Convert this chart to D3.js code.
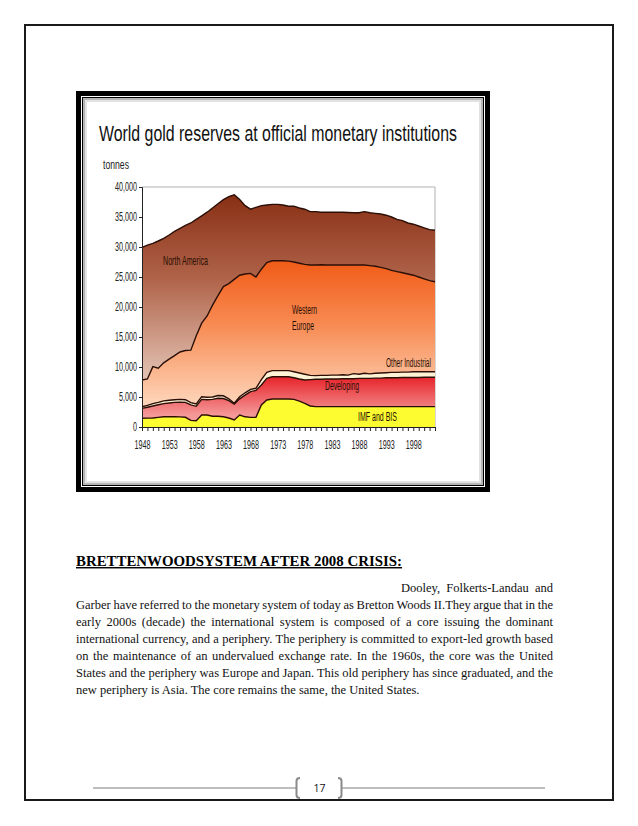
<!DOCTYPE html>
<html>
<head>
<meta charset="utf-8">
<script src="https://cdn.jsdelivr.net/npm/d3@7"></script>
<style>
  html, body { margin: 0; padding: 0; background: #fff; }
  svg { display: block; }
</style>
</head>
<body>
<svg id="svg"></svg>
<script>
const W = 638, H = 826;

// data (tonnes, per group, stacked bottom to top)
const years = [1948,1949,1950,1951,1952,1953,1954,1955,1956,1957,1958,1959,1960,1961,1962,1963,1964,1965,1966,1967,
  1968,1969,1970,1971,1972,1973,1974,1975,1976,1977,1978,1979,1980,1981,1982,1983,1984,1985,1986,1987,
  1988,1989,1990,1991,1992,1993,1994,1995,1996,1997,1998,1999,2000,2001,2002];
const imfBis = [1450,1480,1500,1600,1700,1720,1700,1680,1620,1100,1050,2000,2000,1800,1800,1700,1500,1170,2000,1700,
  1610,1600,3670,4500,4670,4670,4670,4670,4600,4300,3950,3500,3390,3390,3390,3390,3390,3390,3390,3390,
  3390,3390,3390,3390,3390,3390,3390,3390,3390,3390,3390,3390,3390,3390,3390];
const developing = [1650,1820,2000,2100,2200,2280,2400,2470,2480,2600,2400,2600,2550,2800,3000,3050,2900,2660,2700,3600,
  4290,4500,3330,3600,3710,3710,3710,3710,3600,3700,3880,4400,4560,4560,4610,4610,4610,4660,4660,4660,
  4710,4710,4710,4760,4760,4810,4810,4810,4860,4860,4860,4860,4890,4890,4890];
const otherIndustrial = [280,300,400,400,450,450,450,450,450,350,380,450,400,400,450,450,300,120,350,400,
  380,350,900,1000,1020,1020,1020,1020,1000,1000,970,700,610,650,600,650,650,650,600,850,
  700,850,750,800,850,850,900,900,900,900,950,950,920,940,940];
const westernEurope = [4450,4400,6150,5700,6350,6850,7350,7900,8200,8750,11370,12250,13550,15300,16650,18200,19200,20650,20250,19800,
  19320,18550,18400,18300,18300,18300,18300,18250,18300,18300,18300,18400,18440,18450,18400,18350,18350,18300,18350,18100,
  18200,18050,18050,17850,17600,17350,17000,16800,16550,16350,16100,15800,15500,15180,14980];
const northAmerica = [22120,22300,20550,21200,20750,20700,20700,20600,20850,21200,19400,17900,17300,16200,15300,14500,14500,14100,12600,11400,
  10700,11600,10600,9600,9400,9400,9300,9150,9300,9200,9200,8900,8900,8750,8800,8800,8800,8800,8750,8700,
  8700,8900,8800,8800,8900,8900,8900,8700,8700,8500,8500,8500,8500,8500,8600];

const seriesKeys = ["IMF and BIS", "Developing", "Other Industrial", "Western Europe", "North America"];
const yTicks = [0,5000,10000,15000,20000,25000,30000,35000,40000];
const xLabelYears = [1948,1953,1958,1963,1968,1973,1978,1983,1988,1993,1998];

const table = years.map((yr, i) => ({
  year: yr,
  "IMF and BIS": imfBis[i],
  "Developing": developing[i],
  "Other Industrial": otherIndustrial[i],
  "Western Europe": westernEurope[i],
  "North America": northAmerica[i]
}));

const svg = d3.select("#svg").attr("width", W).attr("height", H);
const defs = svg.append("defs");

// page border
svg.append("rect").attr("x", 25).attr("y", 25).attr("width", 588).attr("height", 775)
  .attr("fill", "none").attr("stroke", "#1a1a1a").attr("stroke-width", 2);

// picture frame
svg.append("rect").attr("x", 78.5).attr("y", 93.5).attr("width", 409).attr("height", 396)
  .attr("fill", "#fff").attr("stroke", "#000").attr("stroke-width", 5);
svg.append("rect").attr("x", 82.5).attr("y", 97.5).attr("width", 401).attr("height", 388)
  .attr("fill", "none").attr("stroke", "#000").attr("stroke-width", 1);
svg.append("rect").attr("x", 84).attr("y", 99).attr("width", 398).attr("height", 385)
  .attr("fill", "none").attr("stroke", "#b5b5b5").attr("stroke-width", 2);
svg.append("rect").attr("x", 86).attr("y", 101).attr("width", 394).attr("height", 381)
  .attr("fill", "none").attr("stroke", "#e2e2e2").attr("stroke-width", 2);

const x = d3.scaleLinear().domain([1948, 2002]).range([142, 435]);
const y = d3.scaleLinear().domain([0, 40000]).range([427, 187]);

function grad(id, stops, v1, v2) {
  const g = defs.append("linearGradient").attr("id", id)
    .attr("gradientUnits", "userSpaceOnUse")
    .attr("x1", 0).attr("x2", 0).attr("y1", y(v1)).attr("y2", y(v2));
  stops.forEach(s => g.append("stop").attr("offset", s[0]).attr("stop-color", s[1]));
}
grad("gNA", [[0, "#872e14"], [0.45, "#b0644a"], [1, "#e6c8ba"]], 39000, 7000);
grad("gWE", [[0, "#f05a16"], [0.45, "#f88a52"], [1, "#fdd4b8"]], 28000, 4000);
grad("gDev", [[0, "#e5181f"], [1, "#f59898"]], 9000, 2000);

const fills = {
  "IMF and BIS": "#fdfc30",
  "Developing": "url(#gDev)",
  "Other Industrial": "#fff3d6",
  "Western Europe": "url(#gWE)",
  "North America": "url(#gNA)"
};

// plot box top and right
svg.append("line").attr("x1", x(1948)).attr("x2", x(2002)).attr("y1", y(40000)).attr("y2", y(40000))
  .attr("stroke", "#b0b0b0").attr("stroke-width", 1);
svg.append("line").attr("x1", x(2002)).attr("x2", x(2002)).attr("y1", y(40000)).attr("y2", y(0))
  .attr("stroke", "#b0b0b0").attr("stroke-width", 1);

const stacked = d3.stack().keys(seriesKeys)(table);
const area = d3.area().x(d => x(d.data.year)).y0(d => y(d[0])).y1(d => y(d[1]));
const topLine = d3.line().x(d => x(d.data.year)).y(d => y(d[1]));

svg.append("g").selectAll("path").data(stacked).join("path")
  .attr("d", area)
  .attr("fill", d => fills[d.key]);

svg.append("g").selectAll("path").data(stacked).join("path")
  .attr("d", topLine)
  .attr("fill", "none")
  .attr("stroke", "#2b0f06")
  .attr("stroke-width", 1.4);

// axes
const yAxis = svg.append("g").attr("transform", `translate(${x(1948)},0)`)
  .call(d3.axisLeft(y).tickValues(yTicks).tickFormat(d3.format(",")).tickSize(3).tickPadding(2));
const xAxis = svg.append("g").attr("transform", `translate(0,${y(0)})`)
  .call(d3.axisBottom(x).tickValues(d3.range(1948, 2003)).tickSize(4).tickFormat(d => xLabelYears.includes(d) ? d : "").tickPadding(9));

[yAxis, xAxis].forEach(ax => {
  ax.select(".domain").attr("stroke", "#222");
  ax.selectAll("line").attr("stroke", "#222");
  ax.selectAll("text")
    .attr("font-family", "Liberation Sans, Arial, sans-serif")
    .attr("font-size", 12)
    .attr("fill", "#222")
    .each(function () {
      const len = this.getComputedTextLength();
      if (len > 0) d3.select(this).attr("textLength", len * 0.6).attr("lengthAdjust", "spacingAndGlyphs");
    });
});

// chart texts
function label(txt, lx, ly, size, len, color) {
  svg.append("text").attr("x", lx).attr("y", ly)
    .attr("font-family", "Liberation Sans, Arial, sans-serif")
    .attr("font-size", size).attr("fill", color || "#2a0e04")
    .attr("textLength", len).attr("lengthAdjust", "spacingAndGlyphs")
    .text(txt);
}
label("World gold reserves at official monetary institutions", 99, 141, 22.5, 358, "#111");
label("tonnes", 103, 169, 12, 26, "#222");
label("North America", 163, 264.5, 12.5, 45);
label("Western", 292, 313.5, 12.5, 25);
label("Europe", 292, 330, 12.5, 22);
label("Other Industrial", 386, 366.5, 12.5, 45);
label("Developing", 325, 389.5, 12.5, 34);
label("IMF and BIS", 358, 420.5, 12.5, 39);

// document text below
const serif = "Liberation Serif, Times New Roman, serif";
svg.append("text").attr("x", 76).attr("y", 566)
  .attr("font-family", serif).attr("font-size", 14.5).attr("font-weight", "bold")
  .attr("text-decoration", "underline")
  .attr("textLength", 326).attr("lengthAdjust", "spacingAndGlyphs")
  .text("BRETTENWOODSYSTEM AFTER 2008 CRISIS:");

const paraLines = [
  "Garber have referred to the monetary system of today as Bretton Woods II.They argue that in the",
  "early 2000s (decade) the international system is composed of a core issuing the dominant",
  "international currency, and a periphery. The periphery is committed to export-led growth based",
  "on the maintenance of an undervalued exchange rate. In the 1960s, the core was the United",
  "States and the periphery was Europe and Japan. This old periphery has since graduated, and the"
];
svg.append("text").attr("x", 553).attr("y", 592).attr("text-anchor", "end")
  .attr("font-family", serif).attr("font-size", 12.5).attr("fill", "#111")
  .attr("word-spacing", 3)
  .text("Dooley,  Folkerts-Landau  and");

paraLines.forEach((ln, i) => {
  const t = svg.append("text").attr("x", 76).attr("y", 609 + i * 17)
    .attr("font-family", serif).attr("font-size", 12.5).attr("fill", "#111")
    .text(ln);
  const len = t.node().getComputedTextLength();
  const gaps = ln.split(" ").length - 1;
  t.attr("word-spacing", (477 - len) / gaps);
});
svg.append("text").attr("x", 76).attr("y", 694)
  .attr("font-family", serif).attr("font-size", 12.5).attr("fill", "#111")
  .text("new periphery is Asia. The core remains  the same, the United  States.");

// footer
svg.append("line").attr("x1", 93).attr("x2", 296).attr("y1", 788).attr("y2", 788)
  .attr("stroke", "#a8a8a8").attr("stroke-width", 1.5);
svg.append("line").attr("x1", 342).attr("x2", 545).attr("y1", 788).attr("y2", 788)
  .attr("stroke", "#a8a8a8").attr("stroke-width", 1.5);
svg.append("path").attr("d", "M300,778 Q296.5,778 296.5,781 L296.5,795 Q296.5,798 300,798")
  .attr("fill", "none").attr("stroke", "#8a8a8a").attr("stroke-width", 2);
svg.append("path").attr("d", "M338,778 Q341.5,778 341.5,781 L341.5,795 Q341.5,798 338,798")
  .attr("fill", "none").attr("stroke", "#8a8a8a").attr("stroke-width", 2);
svg.append("text").attr("x", 319.5).attr("y", 791.5).attr("text-anchor", "middle")
  .attr("font-family", "Open Sans, Liberation Sans, sans-serif").attr("font-size", 10.5).attr("fill", "#111")
  .text("17");
</script>
</body>
</html>
